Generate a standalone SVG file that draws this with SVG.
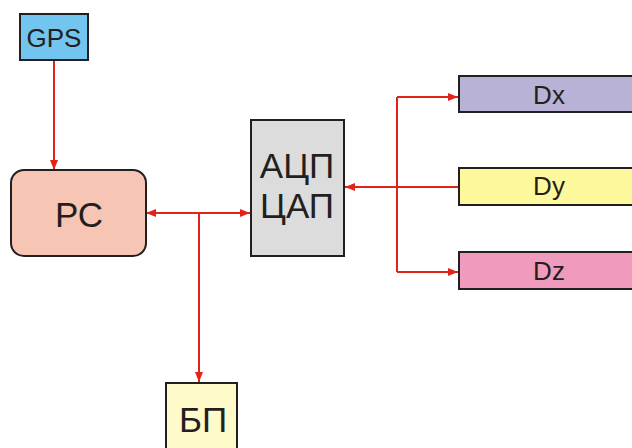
<svg xmlns="http://www.w3.org/2000/svg" width="632" height="448" viewBox="0 0 632 448">
  <style>
    .box { stroke: #231f20; stroke-width: 2; }
    .lbl { font-family: "Liberation Sans", Arial, sans-serif; fill: #231f20; text-anchor: middle; }
    .small { font-size: 26px; }
    .big { font-size: 35px; }
    .wire { fill: none; stroke: #e2231a; stroke-width: 2; }
  </style>
  <defs>
    <marker id="arrow" markerWidth="10" markerHeight="8" refX="10" refY="4" orient="auto-start-reverse" markerUnits="userSpaceOnUse">
      <path d="M0,0 L10,4 L0,8 Z" fill="#e2231a"/>
    </marker>
  </defs>
  <rect width="632" height="448" fill="#ffffff"/>

  <g id="connectors">
    <!-- GPS to PC -->
    <line class="wire" x1="54" y1="60" x2="54" y2="170" marker-end="url(#arrow)"/>
    <!-- PC <-> ADC/DAC bus -->
    <line class="wire" x1="146" y1="213" x2="250" y2="213" marker-start="url(#arrow)" marker-end="url(#arrow)"/>
    <!-- bus to power supply -->
    <line class="wire" x1="199" y1="213" x2="199" y2="382" marker-end="url(#arrow)"/>
    <!-- Dy to ADC/DAC -->
    <line class="wire" x1="458" y1="187" x2="345" y2="187" marker-end="url(#arrow)"/>
    <!-- branch to Dx and Dz -->
    <polyline class="wire" points="397,97 397,272"/>
    <line class="wire" x1="397" y1="97" x2="458" y2="97" marker-end="url(#arrow)"/>
    <line class="wire" x1="397" y1="272" x2="458" y2="272" marker-end="url(#arrow)"/>
  </g>

  <g id="gps">
    <rect class="box" x="20" y="14" width="68" height="46" fill="#71c5ef"/>
    <text class="lbl small" x="54" y="47">GPS</text>
  </g>

  <g id="pc">
    <rect class="box" x="11" y="170" width="135" height="86" rx="13" fill="#f6c5b3"/>
    <text class="lbl big" x="79" y="227">РС</text>
  </g>

  <g id="adc-dac">
    <rect class="box" x="251" y="120" width="93" height="136" fill="#dcdcdc"/>
    <text class="lbl big" x="297" y="178">АЦП</text>
    <text class="lbl big" x="297" y="218">ЦАП</text>
  </g>

  <g id="dx">
    <rect class="box" x="459" y="76" width="190" height="36" fill="#b9b2d7"/>
    <text class="lbl small" x="549" y="104">Dx</text>
  </g>

  <g id="dy">
    <rect class="box" x="459" y="168" width="190" height="37" fill="#fdf89b"/>
    <text class="lbl small" x="549" y="195">Dy</text>
  </g>

  <g id="dz">
    <rect class="box" x="459" y="252" width="190" height="37" fill="#f09bbd"/>
    <text class="lbl small" x="549" y="280">Dz</text>
  </g>

  <g id="psu">
    <rect class="box" x="166" y="383" width="71" height="80" fill="#fefac9"/>
    <text class="lbl big" x="203" y="432">БП</text>
  </g>
</svg>
